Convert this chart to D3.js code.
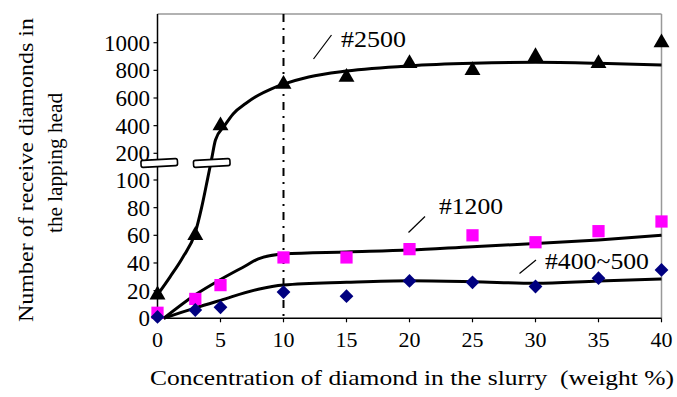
<!DOCTYPE html>
<html>
<head>
<meta charset="utf-8">
<script src="https://cdn.jsdelivr.net/npm/d3@7"></script>
<style>
  body { margin: 0; background: #fff; }
</style>
</head>
<body>
<div id="chart"></div>
<script>
// concentration (weight %) where samples were taken
const conc = [0, 3, 5, 10, 15, 20, 25, 30, 35, 40];

const grit2500 = [17, 60, 400, 700, 750, 850, 800, 900, 850, 1000];
const grit1200 = [4, 14, 24, 44, 44, 50, 60, 55, 63, 70];
const grit400 = [1, 6, 8, 19, 16, 27, 26, 23, 29, 35];

// hand-drawn trend curves
const fit2500 = [[0, 17], [1, 30], [2, 44], [3, 62], [3.5, 80], [4, 110], [4.3, 180], [4.6, 296],
  [5.3, 397], [6, 485], [7, 560], [8, 620], [9, 665], [10, 700], [12, 752], [15, 795],
  [20, 833], [25, 851], [30, 858], [35, 851], [40, 838]];
const fit1200 = [[0.5, 0], [3, 17], [5, 28], [7, 38], [8, 43], [10, 46.5], [15, 48], [20, 49.4],
  [25, 51.8], [30, 54], [35, 56.6], [40, 60]];
const fit400 = [[0.5, 0], [3, 7.5], [5, 13], [8, 21], [10, 24], [15, 26], [20, 27.2], [25, 26.5],
  [30, 25.3], [35, 27], [40, 28.4]];

// tick labels
const xTicks = [0, 5, 10, 15, 20, 25, 30, 35, 40];
const yTicks = [0, 20, 40, 60, 80, 100, 200, 400, 600, 800, 1000];

const width = 677;
const height = 397;
const serif = "'Liberation Serif', 'Times New Roman', Times, 'DejaVu Serif', serif";

const svg = d3.select("#chart")
  .append("svg")
  .attr("width", width)
  .attr("height", height)
  .attr("font-family", serif);

const x = d3.scaleLinear().domain([0, 40]).range([157.5, 661.5]);
// broken axis: 0-100 and 200-1000 share the same step, 100-200 is the gap
const y = d3.scaleLinear().domain([0, 100, 200, 1000]).range([318.3, 180, 153.3, 42.7]);
const yTop = 14;

// frame (top and right in grey)
svg.append("line")
  .attr("x1", x(0)).attr("x2", x(40)).attr("y1", yTop).attr("y2", yTop)
  .attr("stroke", "#999").attr("stroke-width", 1.5);
svg.append("line")
  .attr("x1", x(40)).attr("x2", x(40)).attr("y1", yTop).attr("y2", y(0))
  .attr("stroke", "#999").attr("stroke-width", 1.5);

// axes
svg.append("line")
  .attr("x1", x(0)).attr("x2", x(0)).attr("y1", yTop).attr("y2", y(0))
  .attr("stroke", "#000").attr("stroke-width", 1.5);
svg.append("line")
  .attr("x1", x(0)).attr("x2", x(40)).attr("y1", y(0)).attr("y2", y(0))
  .attr("stroke", "#000").attr("stroke-width", 1.5);

svg.append("g").selectAll("line")
  .data(xTicks).enter().append("line")
  .attr("x1", d => x(d)).attr("x2", d => x(d))
  .attr("y1", y(0)).attr("y2", y(0) + 4)
  .attr("stroke", "#000").attr("stroke-width", 1.2);

svg.append("g").selectAll("text")
  .data(xTicks).enter().append("text")
  .attr("x", d => x(d)).attr("y", 346.5)
  .attr("text-anchor", "middle")
  .attr("font-size", 22)
  .text(d => d);

svg.append("g").selectAll("line")
  .data(yTicks).enter().append("line")
  .attr("x1", x(0) - 4).attr("x2", x(0))
  .attr("y1", d => y(d)).attr("y2", d => y(d))
  .attr("stroke", "#000").attr("stroke-width", 1.2);

svg.append("g").selectAll("text")
  .data(yTicks).enter().append("text")
  .attr("x", 150).attr("y", d => y(d) + 8)
  .attr("text-anchor", "end")
  .attr("font-size", 23)
  .text(d => d);

// dash-dot guide at 10 %
svg.append("line")
  .attr("x1", x(10)).attr("x2", x(10)).attr("y1", yTop).attr("y2", y(0))
  .attr("stroke", "#000").attr("stroke-width", 2)
  .attr("stroke-dasharray", "8,6,2,6");

// trend curves
const line = d3.line()
  .x(d => x(d[0]))
  .y(d => y(d[1]))
  .curve(d3.curveMonotoneX);

[fit2500, fit1200, fit400].forEach(pts => {
  svg.append("path")
    .datum(pts)
    .attr("d", line)
    .attr("fill", "none")
    .attr("stroke", "#000")
    .attr("stroke-width", 3);
});

// markers
function drawMarkers(values, type, size, color, rot) {
  svg.append("g").selectAll("path")
    .data(values).enter().append("path")
    .attr("d", d3.symbol().type(type).size(size))
    .attr("transform", (d, i) => "translate(" + x(conc[i]) + "," + y(d) + ")" + (rot ? " rotate(45)" : ""))
    .attr("fill", color);
}
drawMarkers(grit1200, d3.symbolSquare, 150, "#ff00ff", false);
drawMarkers(grit400, d3.symbolSquare, 95, "#000080", true);
drawMarkers(grit2500, d3.symbolTriangle, 110, "#000", false);

// axis break marks
[[141, 177.5], [193.5, 230]].forEach(b => {
  svg.append("rect")
    .attr("x", b[0]).attr("y", 159.5)
    .attr("width", b[1] - b[0]).attr("height", 7)
    .attr("rx", 2)
    .attr("transform", "rotate(-3," + ((b[0] + b[1]) / 2) + ",163)")
    .attr("fill", "#fff")
    .attr("stroke", "#000")
    .attr("stroke-width", 1.6);
});

// series labels with leader lines
const labels = [
  {text: "#2500", lx: [313.5, 59, 331.5, 35], tx: 341, ty: 46.5, len: 65},
  {text: "#1200", lx: [408.5, 232.5, 425, 216.5], tx: 439, ty: 214, len: 64},
  {text: "#400~500", lx: [519.5, 273.5, 536, 260], tx: 545, ty: 269, len: 104}
];
labels.forEach(l => {
  svg.append("line")
    .attr("x1", l.lx[0]).attr("y1", l.lx[1]).attr("x2", l.lx[2]).attr("y2", l.lx[3])
    .attr("stroke", "#000").attr("stroke-width", 1.2);
  svg.append("text")
    .attr("x", l.tx).attr("y", l.ty)
    .attr("font-size", 23)
    .attr("textLength", l.len)
    .attr("lengthAdjust", "spacingAndGlyphs")
    .text(l.text);
});

// axis titles
svg.append("text")
  .attr("x", 150).attr("y", 385)
  .attr("font-size", 22)
  .attr("textLength", 524)
  .attr("lengthAdjust", "spacingAndGlyphs")
  .text("Concentration of diamond in the slurry\u00a0\u00a0(weight %)");

const yTitle = svg.append("g").attr("transform", "translate(0,170) rotate(-90)");
yTitle.append("text")
  .attr("x", -152).attr("y", 33)
  .attr("font-size", 22)
  .attr("textLength", 304)
  .attr("lengthAdjust", "spacingAndGlyphs")
  .text("Number of receive diamonds in");
yTitle.append("text")
  .attr("x", -63).attr("y", 62)
  .attr("font-size", 22)
  .attr("textLength", 140)
  .attr("lengthAdjust", "spacingAndGlyphs")
  .text("the lapping head");
</script>
</body>
</html>
